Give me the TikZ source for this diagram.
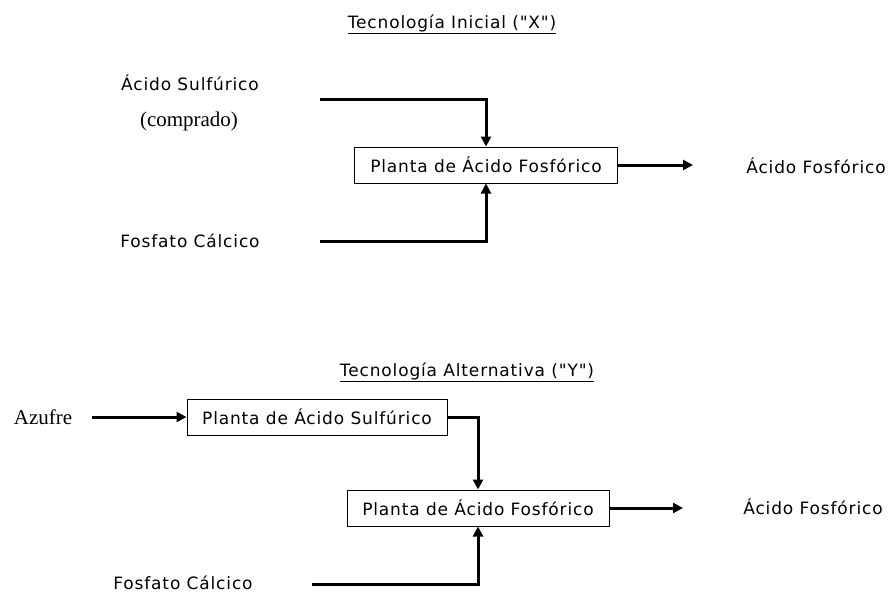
\documentclass[tikz,border=0pt]{standalone}
\usepackage{fontspec}
\setmainfont{Liberation Serif}
\newfontfamily\labelfont[LetterSpace=5]{DejaVu Sans}
\usetikzlibrary{arrows.meta}
\begin{document}
\begin{tikzpicture}[x=1pt,y=-1pt,
  lbl/.style={inner sep=0pt,font=\labelfont\fontsize{17}{19}\selectfont},
  serif/.style={inner sep=0pt,font=\fontsize{21}{23}\selectfont},
  plant/.style={draw,line width=1pt,inner sep=0pt,minimum height=36pt,font=\labelfont\fontsize{17}{19}\selectfont},
  flowarr/.style={line width=3pt,-{Triangle[length=10pt,width=10pt]}}]
\useasboundingbox (0,0) rectangle (893,595);

% ---- Tecnologia inicial
\node[lbl] (t1) at (452,24) {\underline{Tecnología Inicial ("X")}};
\node[lbl] (sa) at (190,83) {Ácido Sulfúrico};
\node[serif] (co) at (189,121) {(comprado)};
\node[lbl] (fc1) at (190,241) {Fosfato Cálcico};
\node[plant,minimum width=263pt] (p1) at (486,165) {Planta de Ácido Fosfórico};
\node[lbl] (af1) at (816,166) {Ácido Fosfórico};

\coordinate (sa0) at (320,99);
\coordinate (fc0) at (320,241);
\coordinate (o1) at (693,165);
\draw[flowarr] (sa0) -| (p1.north);
\draw[flowarr] (fc0) -| (p1.south);
\draw[flowarr] (p1.east) -- (o1);

% ---- Tecnologia alternativa
\node[lbl] (t2) at (467,372) {\underline{Tecnología Alternativa ("Y")}};
\node[serif] (az) at (43,417) {Azufre};
\node[plant,minimum width=260pt] (p2) at (317,417) {Planta de Ácido Sulfúrico};
\node[plant,minimum width=262pt] (p3) at (478,508) {Planta de Ácido Fosfórico};
\node[lbl] (fc2) at (183,583) {Fosfato Cálcico};
\node[lbl] (af2) at (813,507) {Ácido Fosfórico};

\coordinate (az0) at (92,417);
\coordinate (fc20) at (312,584);
\coordinate (o2) at (683,508);
\draw[flowarr] (az0) -- (p2.west);
\draw[flowarr] (p2.east) -| (p3.north);
\draw[flowarr] (fc20) -| (p3.south);
\draw[flowarr] (p3.east) -- (o2);
\end{tikzpicture}
\end{document}
